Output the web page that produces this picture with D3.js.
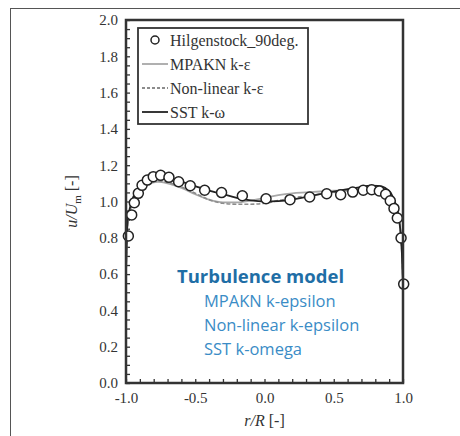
<!DOCTYPE html>
<html>
<head>
<meta charset="utf-8">
<script src="https://cdn.jsdelivr.net/npm/d3@7"></script>
<style>
  body { margin: 0; background: #fff; }
  svg text { font-family: "Liberation Serif", "DejaVu Serif", serif; }
</style>
</head>
<body>
<div id="vis_1"></div>
<script>
// experimental points (Hilgenstock_90deg.)
var expX = [-0.983, -0.959, -0.94, -0.911, -0.884, -0.846, -0.803, -0.75, -0.69, -0.62, -0.536, -0.432, -0.31, -0.16, 0.011, 0.184, 0.326, 0.449, 0.55, 0.637, 0.713, 0.774, 0.829, 0.875, 0.908, 0.935, 0.959, 0.986, 1.005];
var expY = [0.81, 0.926, 0.993, 1.045, 1.089, 1.118, 1.137, 1.144, 1.133, 1.109, 1.087, 1.062, 1.049, 1.032, 1.015, 1.01, 1.025, 1.043, 1.037, 1.052, 1.062, 1.065, 1.058, 1.04, 1.004, 0.962, 0.909, 0.799, 0.545];

// model curves
var lineX = [-1.0, -0.99, -0.97, -0.95, -0.92, -0.88, -0.83, -0.77, -0.7, -0.6, -0.5, -0.4, -0.3, -0.2, -0.1, 0.0, 0.1, 0.2, 0.3, 0.4, 0.5, 0.6, 0.7, 0.76, 0.82, 0.87, 0.91, 0.94, 0.96, 0.98, 0.99, 1.0];
var mpaknY = [0.6, 0.86, 0.95, 1.0, 1.04, 1.075, 1.098, 1.108, 1.1, 1.075, 1.04, 1.01, 0.995, 0.995, 1.005, 1.02, 1.035, 1.045, 1.05, 1.055, 1.06, 1.063, 1.067, 1.07, 1.068, 1.06, 1.04, 1.0, 0.95, 0.85, 0.75, 0.55];
var nonlinY = [0.6, 0.86, 0.95, 1.0, 1.04, 1.078, 1.102, 1.113, 1.105, 1.08, 1.045, 1.01, 0.99, 0.985, 0.985, 0.99, 1.005, 1.02, 1.03, 1.04, 1.05, 1.06, 1.068, 1.072, 1.07, 1.06, 1.04, 1.0, 0.95, 0.85, 0.75, 0.55];
var sstY = [0.6, 0.88, 0.97, 1.02, 1.06, 1.1, 1.125, 1.135, 1.13, 1.11, 1.085, 1.06, 1.04, 1.02, 1.006, 1.0, 1.002, 1.01, 1.025, 1.04, 1.055, 1.068, 1.08, 1.087, 1.086, 1.075, 1.05, 1.0, 0.95, 0.85, 0.75, 0.55];

var xTicks = [-1.0, -0.5, 0.0, 0.5, 1.0];
var yTicks = [0.0, 0.2, 0.4, 0.6, 0.8, 1.0, 1.2, 1.4, 1.6, 1.8, 2.0];
var legendNames = ["Hilgenstock_90deg.", "MPAKN k-\u03b5", "Non-linear k-\u03b5", "SST k-\u03c9"];
var noteTitle = "Turbulence model";
var noteLines = ["MPAKN k-epsilon", "Non-linear k-epsilon", "SST k-omega"];

var W = 460, H = 436;
var margin = {top: 20, right: 57, bottom: 53, left: 126},
    width = W - margin.left - margin.right,
    height = H - margin.top - margin.bottom;

// one decimal, plain hyphen for negatives
var fmt = function(d){ return d.toFixed(1).replace("\u2212", "-"); };

var root = d3.select("#vis_1")
    .append("svg")
    .attr("width", W)
    .attr("height", H);

// outer frame
root.append("rect")
    .attr("x", 10.5).attr("y", 8.5)
    .attr("width", 460).attr("height", 440)
    .style("fill", "none").style("stroke", "#555").style("stroke-width", 1);

var svg = root.append("g")
    .attr("transform", "translate(" + margin.left + "," + margin.top + ")");

var x = d3.scaleLinear().domain([-1, 1]).range([0, width]);
var y = d3.scaleLinear().domain([0, 2]).range([height, 0]);

// minor ticks (inside)
svg.append("g")
    .attr("transform", "translate(0," + height + ")")
    .call(d3.axisBottom(x).tickValues(d3.range(-10, 11).map(function(d){ return d / 10; })).tickSize(-4).tickFormat(""))
    .call(function(g){ g.select(".domain").remove(); })
    .selectAll("line").style("stroke", "#333").style("stroke-width", 1.3);

svg.append("g")
    .call(d3.axisLeft(y).tickValues(d3.range(0, 41).map(function(d){ return d / 20; })).tickSize(-4).tickFormat(""))
    .call(function(g){ g.select(".domain").remove(); })
    .selectAll("line").style("stroke", "#333").style("stroke-width", 1.3);

// tick labels
var xAxis = svg.append("g")
    .attr("transform", "translate(0," + height + ")")
    .call(d3.axisBottom(x).tickValues(xTicks).tickSize(0).tickPadding(9).tickFormat(fmt))
    .attr("font-family", "Liberation Serif")
    .attr("font-size", 15);
xAxis.select(".domain").remove();
xAxis.selectAll("text").style("fill", "#333");

var yAxis = svg.append("g")
    .call(d3.axisLeft(y).tickValues(yTicks).tickSize(0).tickPadding(8).tickFormat(fmt))
    .attr("font-family", "Liberation Serif")
    .attr("font-size", 15);
yAxis.select(".domain").remove();
yAxis.selectAll("text").style("fill", "#333");

// lines
var lineGen = function(ys) {
    return d3.line()
        .x(function(d, i){ return x(lineX[i]); })
        .y(function(d){ return y(d); })
        .curve(d3.curveMonotoneX)(ys);
};

svg.append("path").attr("d", lineGen(mpaknY))
    .style("fill", "none").style("stroke", "#a8a8a8").style("stroke-width", 1.8);
svg.append("path").attr("d", lineGen(nonlinY))
    .style("fill", "none").style("stroke", "#8c8c8c").style("stroke-width", 1.6)
    .style("stroke-dasharray", "4,2");
svg.append("path").attr("d", lineGen(sstY))
    .style("fill", "none").style("stroke", "#222").style("stroke-width", 1.8);

// experimental circles
svg.append("g")
    .selectAll("circle")
    .data(expX)
    .enter()
    .append("circle")
    .attr("cx", function(d){ return x(d); })
    .attr("cy", function(d, i){ return y(expY[i]); })
    .attr("r", 5)
    .style("fill", "#fff")
    .style("stroke", "#222")
    .style("stroke-width", 1.5);

// plot frame
svg.append("rect")
    .attr("width", width).attr("height", height)
    .style("fill", "none").style("stroke", "#333").style("stroke-width", 2.5);

// legend
var legend = svg.append("g").attr("transform", "translate(12,8)");
legend.append("rect")
    .attr("width", 170).attr("height", 96)
    .style("fill", "#fff").style("stroke", "#333").style("stroke-width", 1.8);

var entries = legend.selectAll(".legend")
    .data(legendNames)
    .enter().append("g")
    .attr("class", "legend")
    .attr("transform", function(d, i){ return "translate(0," + (12 + i * 24) + ")"; });

entries.append("text")
    .attr("x", 32).attr("dy", "0.35em")
    .style("font-size", "16px").style("fill", "#333")
    .text(function(d){ return d; });

entries.filter(function(d, i){ return i === 0; })
    .append("circle").attr("cx", 17).attr("cy", 0).attr("r", 4)
    .style("fill", "#fff").style("stroke", "#222").style("stroke-width", 1.5);

var legStyles = [null, {c: "#a8a8a8", dash: null}, {c: "#8c8c8c", dash: "3,2"}, {c: "#222", dash: null}];
entries.filter(function(d, i){ return i > 0; })
    .append("line")
    .attr("x1", 4).attr("x2", 30).attr("y1", 0).attr("y2", 0)
    .style("stroke", function(d){ return legStyles[legendNames.indexOf(d)].c; })
    .style("stroke-dasharray", function(d){ return legStyles[legendNames.indexOf(d)].dash; })
    .style("stroke-width", 1.8);

// axis titles
var xt = root.append("text")
    .attr("x", margin.left + width / 2).attr("y", 426)
    .attr("text-anchor", "middle")
    .style("font-size", "16px").style("fill", "#333");
xt.append("tspan").style("font-style", "italic").text("r/R");
xt.append("tspan").text(" [-]");

var yt = root.append("text")
    .attr("transform", "translate(77," + (margin.top + height / 2) + ") rotate(-90)")
    .attr("text-anchor", "middle")
    .style("font-size", "16px").style("fill", "#333");
yt.append("tspan").style("font-style", "italic").text("u/U");
yt.append("tspan").style("font-size", "11px").attr("dy", 4).text("m");
yt.append("tspan").attr("dy", -4).text(" [-]");

// annotation
var note = root.append("g");
note.append("text")
    .attr("x", 177).attr("y", 283)
    .style("font-family", "'Open Sans', sans-serif")
    .style("font-size", "18.5px").style("font-weight", "bold").style("fill", "#1f6ea6")
    .text(noteTitle);
note.selectAll(".nl")
    .data(noteLines)
    .enter().append("text")
    .attr("x", 204)
    .attr("y", function(d, i){ return 307 + i * 24; })
    .style("font-family", "'Open Sans', sans-serif")
    .style("font-size", "16.5px").style("fill", "#3a8cc6")
    .text(function(d){ return d; });
</script>
</body>
</html>
